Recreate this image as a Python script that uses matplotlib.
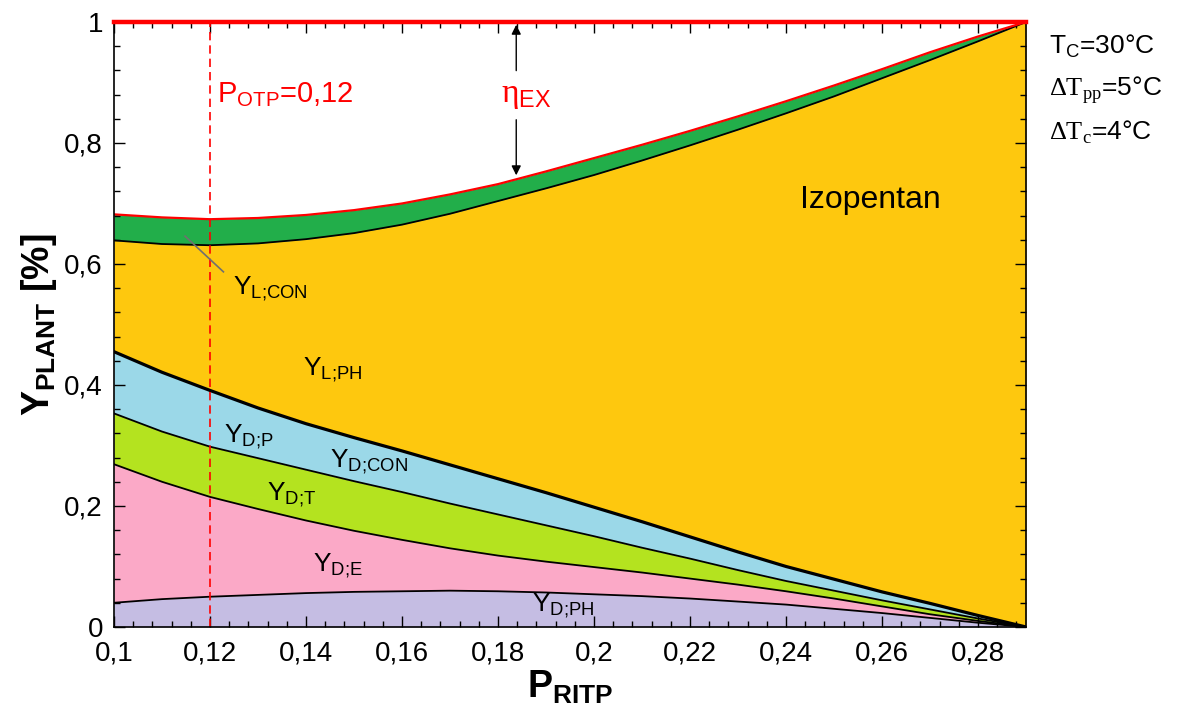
import matplotlib
matplotlib.use("Agg")
import matplotlib.pyplot as plt
from matplotlib.ticker import MultipleLocator, FuncFormatter

plt.rcParams['font.family'] = ['Liberation Sans', 'DejaVu Sans']
plt.rcParams['mathtext.fontset'] = 'custom'
plt.rcParams['mathtext.rm'] = 'Liberation Sans'
plt.rcParams['mathtext.sf'] = 'Liberation Sans'
plt.rcParams['mathtext.tt'] = 'Liberation Serif'
plt.rcParams['mathtext.bf'] = 'Liberation Sans:bold'

# P_RITP values
p_ritp = [0.10, 0.11, 0.12, 0.13, 0.14, 0.15, 0.16, 0.17, 0.18, 0.19,
          0.20, 0.21, 0.22, 0.23, 0.24, 0.25, 0.26, 0.27, 0.28, 0.29]

# cumulative upper boundaries of each band
y_d_ph = [0.040, 0.046, 0.050, 0.053, 0.056, 0.058, 0.059, 0.060, 0.059, 0.057,
          0.054, 0.051, 0.047, 0.042, 0.037, 0.030, 0.023, 0.015, 0.007, 0.0]
y_d_e = [0.269, 0.240, 0.215, 0.195, 0.176, 0.159, 0.144, 0.130, 0.118, 0.108,
         0.099, 0.090, 0.080, 0.070, 0.059, 0.047, 0.034, 0.021, 0.010, 0.0]
y_d_t = [0.353, 0.323, 0.298, 0.279, 0.260, 0.241, 0.223, 0.204, 0.186, 0.168,
         0.150, 0.131, 0.113, 0.094, 0.076, 0.060, 0.044, 0.029, 0.014, 0.0]
y_d_con = [0.455, 0.421, 0.391, 0.362, 0.336, 0.313, 0.291, 0.268, 0.245, 0.222,
           0.198, 0.174, 0.149, 0.124, 0.100, 0.079, 0.058, 0.039, 0.019, 0.0]
y_l_ph = [0.639, 0.633, 0.631, 0.634, 0.641, 0.651, 0.665, 0.683, 0.704, 0.725,
          0.747, 0.771, 0.796, 0.822, 0.849, 0.877, 0.907, 0.937, 0.968, 1.0]
y_l_con = [0.682, 0.677, 0.674, 0.676, 0.681, 0.689, 0.700, 0.715, 0.732, 0.753,
           0.775, 0.797, 0.820, 0.844, 0.869, 0.895, 0.922, 0.950, 0.976, 1.0]

p_otp = 0.12
x_ticks = [0.10, 0.12, 0.14, 0.16, 0.18, 0.20, 0.22, 0.24, 0.26, 0.28]
y_ticks = [0.0, 0.2, 0.4, 0.6, 0.8, 1.0]

fig = plt.figure(figsize=(11.8, 7.09), dpi=100)
ax = fig.add_axes([0.0966, 0.1157, 0.7729, 0.8533])

# stacked bands
ax.fill_between(p_ritp, 0, y_d_ph, color='#c5bde3', lw=0)
ax.fill_between(p_ritp, y_d_ph, y_d_e, color='#fba9c7', lw=0)
ax.fill_between(p_ritp, y_d_e, y_d_t, color='#b4e31f', lw=0)
ax.fill_between(p_ritp, y_d_t, y_d_con, color='#9bd8e8', lw=0)
ax.fill_between(p_ritp, y_d_con, y_l_ph, color='#fec80e', lw=0)
ax.fill_between(p_ritp, y_l_ph, y_l_con, color='#22ae4a', lw=0)

ax.plot(p_ritp, y_d_ph, color='black', lw=1.3)
ax.plot(p_ritp, y_d_e, color='black', lw=1.3)
ax.plot(p_ritp, y_d_t, color='black', lw=1.3)
ax.plot(p_ritp, y_d_con, color='black', lw=2.3)
ax.plot(p_ritp, y_l_ph, color='black', lw=1.3)
ax.plot(p_ritp, y_l_con, color='#ff0000', lw=1.6)
ax.axhline(1.0, color='#ff0000', lw=3.2, clip_on=False, zorder=5)
ax.axvline(p_otp, color='#ff0000', lw=1.2, ls=(0, (5, 3)))

ax.set_xlim(0.10, 0.29)
ax.set_ylim(0, 1)
ax.xaxis.set_minor_locator(MultipleLocator(0.004))
ax.yaxis.set_minor_locator(MultipleLocator(0.04))
ax.set_xticks(x_ticks)
ax.set_yticks(y_ticks)
comma = FuncFormatter(lambda v, pos: ('%g' % round(v, 3)).replace('.', ','))
ax.xaxis.set_major_formatter(comma)
ax.yaxis.set_major_formatter(comma)
ax.tick_params(which='both', direction='in', top=True, right=True,
               labelsize=20, width=1, color='black')
ax.tick_params(which='major', length=8)
ax.tick_params(axis='x', which='major', pad=10)
ax.tick_params(axis='y', which='major', pad=8)
ax.tick_params(which='minor', length=4)
for s in ax.spines.values():
    s.set_linewidth(1.2)

ax.set_xlabel(r'$\mathbf{P}_{\mathbf{RITP}}$', fontsize=27, labelpad=1)
ax.set_ylabel(r'$\mathbf{Y}_{\mathbf{PLANT}}$ [%]', fontsize=27,
              fontweight='bold', labelpad=4)

# annotations
ax.text(0.1215, 0.88, r'$\mathsf{P}_{\text{OTP}}\text{=0,12}$', color='#ff0000',
        fontsize=21, va='center')
ax.text(0.1858, 0.878, r'$\mathtt{\eta}_{\text{EX}}$', color='#ff0000', fontsize=24,
        ha='center', va='center')
ax.annotate('', xy=(0.1838, 1.0), xytext=(0.1838, 0.915),
            arrowprops=dict(arrowstyle='-|>', color='black', lw=1, mutation_scale=14))
ax.annotate('', xy=(0.1838, 0.742), xytext=(0.1838, 0.843),
            arrowprops=dict(arrowstyle='-|>', color='black', lw=1, mutation_scale=14))
ax.text(0.2575, 0.706, 'Izopentan', fontsize=23, ha='center', va='center')

ax.plot([0.1148, 0.1228], [0.646, 0.587], color='#707070', lw=1.2)
labels = [
    (0.1325, 0.560, r'$\mathsf{Y}_{\text{L;CON}}$'),
    (0.1455, 0.425, r'$\mathsf{Y}_{\text{L;PH}}$'),
    (0.1280, 0.314, r'$\mathsf{Y}_{\text{D;P}}$'),
    (0.1532, 0.273, r'$\mathsf{Y}_{\text{D;CON}}$'),
    (0.1370, 0.218, r'$\mathsf{Y}_{\text{D;T}}$'),
    (0.1467, 0.102, r'$\mathsf{Y}_{\text{D;E}}$'),
    (0.1935, 0.035, r'$\mathsf{Y}_{\text{D;PH}}$'),
]
for lx, ly, lt in labels:
    ax.text(lx, ly, lt, fontsize=19, ha='center', va='center')

fig.text(0.889, 0.935, r'$\mathsf{T}_{\text{C}}\text{=30°C}$', fontsize=19, va='center')
fig.text(0.889, 0.873, r'$\mathtt{\Delta T}_{\mathtt{pp}}\text{=5°C}$', fontsize=19, va='center')
fig.text(0.889, 0.814, r'$\mathtt{\Delta T}_{\mathtt{c}}\text{=4°C}$', fontsize=19, va='center')

fig.savefig('out.png', dpi=100)
